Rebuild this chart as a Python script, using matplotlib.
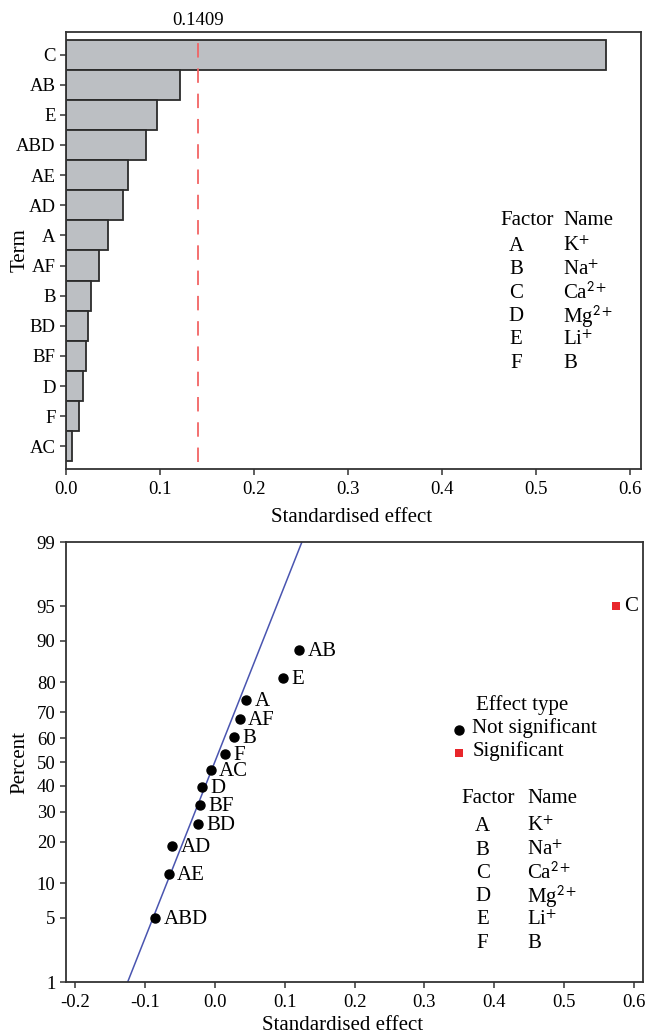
import numpy as np
import matplotlib
matplotlib.use("Agg")
import matplotlib.pyplot as plt
import matplotlib.transforms as mtransforms
from statistics import NormalDist

plt.rcParams['font.family'] = ['Liberation Serif', 'DejaVu Serif']
plt.rcParams['mathtext.fontset'] = 'stix'

# --- data ---
terms = ['C', 'AB', 'E', 'ABD', 'AE', 'AD', 'A', 'AF', 'B', 'BD', 'BF', 'D', 'F', 'AC']
effects = [0.574, 0.121, 0.097, -0.085, -0.066, -0.061, 0.045, 0.0355, 0.027,
           -0.0235, -0.0215, -0.018, 0.0143, -0.006]
percents = [95.1, 88.2, 81.3, 4.9, 11.8, 18.8, 74.3, 67.4, 60.4, 25.7, 32.6, 39.6, 53.5, 46.5]
threshold = 0.1409
line_center = 0.0
line_scale = 0.0536

factors = ['A', 'B', 'C', 'D', 'E', 'F']
factor_names = [r'K$^{\mathsf{+}}$', r'Na$^{\mathsf{+}}$', r'Ca$^{\mathsf{2+}}$',
                r'Mg$^{\mathsf{2+}}$', r'Li$^{\mathsf{+}}$', 'B']

top_xticks = [0.0, 0.1, 0.2, 0.3, 0.4, 0.5, 0.6]
bot_xticks = [-0.2, -0.1, 0.0, 0.1, 0.2, 0.3, 0.4, 0.5, 0.6]
pct_ticks = [1, 5, 10, 20, 30, 40, 50, 60, 70, 80, 90, 95, 99]

spine_col = '#333333'
red = '#e8262b'
nd = NormalDist()

fig = plt.figure(figsize=(6.46, 10.35), dpi=100)

# ================= Pareto chart =================
ax1 = fig.add_axes([0.1022, 0.5469, 0.8901, 0.4222])
bar_vals = [abs(e) for e in effects]
ax1.barh(range(len(terms)), bar_vals, height=1.0, color='#bcbfc3',
         edgecolor='#2b2b2b', linewidth=1.3)
ax1.set_ylim(len(terms) - 0.25, -0.75)
ax1.set_yticks(range(len(terms)))
ax1.set_yticklabels(terms)
ax1.set_xlim(0, 0.6117)
ax1.set_xticks(top_xticks)
ax1.set_xticklabels(['%.1f' % t for t in top_xticks])
ax1.axvline(threshold, ymin=0.015, ymax=1.0, color='#f26464', lw=1.3,
            ls=(0, (8, 6)))
trans = mtransforms.blended_transform_factory(ax1.transData, ax1.transAxes)
ax1.text(threshold, 1.026, '%.4f' % threshold, transform=trans,
         ha='center', va='center', fontsize=13.5)
ax1.set_xlabel('Standardised effect', fontsize=15)
ax1.xaxis.set_label_coords(0.497, -0.089)
ax1.set_ylabel('Term', fontsize=15)
ax1.yaxis.set_label_coords(-0.064, 0.5)

# factor table (top)
ax1.text(0.756, 0.568, 'Factor', transform=ax1.transAxes, fontsize=15, va='center')
ax1.text(0.8643, 0.568, 'Name', transform=ax1.transAxes, fontsize=15, va='center')
for i, (f, n) in enumerate(zip(factors, factor_names)):
    y = 0.5087 - i * 0.0533
    ax1.text(0.7826, y, f, transform=ax1.transAxes, fontsize=15, va='center', ha='center')
    ax1.text(0.8643, y, n, transform=ax1.transAxes, fontsize=15, va='center')

# ================= Normal plot =================
ax2 = fig.add_axes([0.1022, 0.0512, 0.8932, 0.4251])
zlo = nd.inv_cdf(0.01)
zhi = nd.inv_cdf(0.99)
ax2.plot([line_center + line_scale * zlo, line_center + line_scale * zhi],
         [zlo, zhi], color='#4a55b0', lw=1.1, zorder=2)

for t, e, p in zip(terms, effects, percents):
    z = nd.inv_cdf(p / 100)
    if abs(e) > threshold:
        ax2.plot(e, z, 's', color=red, ms=6.3, mew=0, zorder=3)
    else:
        ax2.plot(e, z, 'o', color='black', ms=6.5, zorder=3)
    ax2.annotate(t, (e, z), xytext=(6, -1), textcoords='offset points',
                 ha='left', va='center', fontsize=15)

ax2.set_ylim(zlo, zhi)
ax2.set_yticks([nd.inv_cdf(p / 100) for p in pct_ticks])
ax2.set_yticklabels([str(p) for p in pct_ticks])
ax2.set_xlim(-0.2129, 0.6129)
ax2.set_xticks(bot_xticks)
ax2.set_xticklabels(['%.1f' % t for t in bot_xticks])
ax2.set_xlabel('Standardised effect', fontsize=15)
ax2.xaxis.set_label_coords(0.48, -0.077)
ax2.set_ylabel('Percent', fontsize=15)
ax2.yaxis.set_label_coords(-0.0637, 0.5)

# effect type legend
ax2.text(0.7106, 0.6295, 'Effect type', transform=ax2.transAxes, fontsize=15, va='center')
ax2.plot(0.681, 0.5727, 'o', color='black', ms=6.5, transform=ax2.transAxes)
ax2.text(0.703, 0.577, 'Not significant', transform=ax2.transAxes, fontsize=15, va='center')
ax2.plot(0.681, 0.521, 's', color=red, ms=6.3, mew=0, transform=ax2.transAxes)
ax2.text(0.7054, 0.525, 'Significant', transform=ax2.transAxes, fontsize=15, va='center')

# factor table (bottom)
ax2.text(0.6858, 0.418, 'Factor', transform=ax2.transAxes, fontsize=15, va='center')
ax2.text(0.799, 0.418, 'Name', transform=ax2.transAxes, fontsize=15, va='center')
for i, (f, n) in enumerate(zip(factors, factor_names)):
    y = 0.353 - i * 0.053
    ax2.text(0.722, y, f, transform=ax2.transAxes, fontsize=15, va='center', ha='center')
    ax2.text(0.799, y, n, transform=ax2.transAxes, fontsize=15, va='center')

for ax in (ax1, ax2):
    for s in ax.spines.values():
        s.set_color(spine_col)
        s.set_linewidth(1.3)
    ax.tick_params(direction='out', length=4, width=1.1, color=spine_col,
                   labelsize=13.5)
    ax.tick_params(axis='x', pad=4.5)
    ax.tick_params(axis='y', pad=3.5)

fig.savefig('out.png', dpi=100)
